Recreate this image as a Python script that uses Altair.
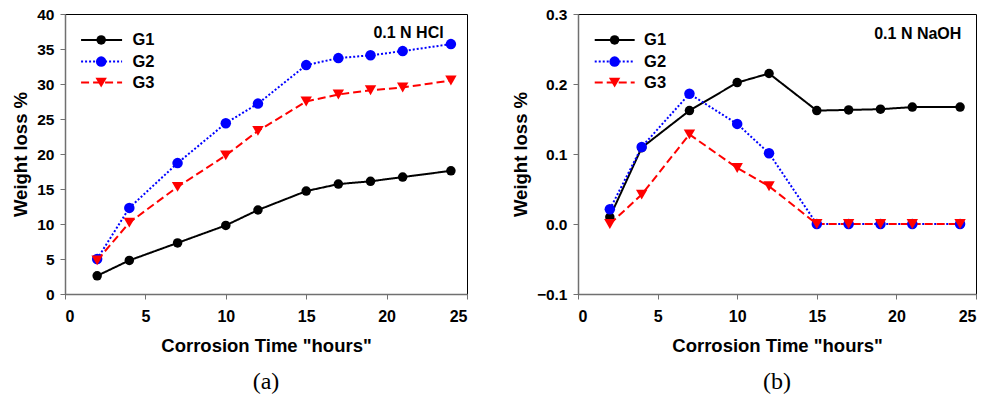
import altair as alt
import pandas as pd

hours = [2, 4, 7, 10, 12, 15, 17, 19, 21, 24]
series_names = ["G1", "G2", "G3"]

hcl_g1 = [2.6, 4.8, 7.3, 9.8, 12.0, 14.7, 15.7, 16.1, 16.7, 17.6]
hcl_g2 = [5.0, 12.3, 18.7, 24.4, 27.2, 32.7, 33.7, 34.1, 34.7, 35.7]
hcl_g3 = [4.8, 10.2, 15.3, 19.8, 23.3, 27.5, 28.5, 29.1, 29.5, 30.5]

naoh_g1 = [0.010, 0.109, 0.162, 0.202, 0.215, 0.162, 0.163, 0.164, 0.167, 0.167]
naoh_g2 = [0.021, 0.110, 0.186, 0.143, 0.101, 0.0, 0.0, 0.0, 0.0, 0.0]
naoh_g3 = [0.0, 0.042, 0.128, 0.080, 0.054, 0.0, 0.0, 0.0, 0.0, 0.0]

x_ticks = [0, 5, 10, 15, 20, 25]
hcl_ticks = [0, 5, 10, 15, 20, 25, 30, 35, 40]
naoh_ticks = [-0.1, 0.0, 0.1, 0.2, 0.3]

colors = ["#000000", "#0000FF", "#FF0000"]
dashes = [[1, 0], [2, 2], [8, 4]]
shapes = ["circle", "circle", "triangle-down"]
sizes = [90, 130, 130]

FONT = "Liberation Sans"

color_scale = alt.Scale(domain=series_names, range=colors)
dash_scale = alt.Scale(domain=series_names, range=dashes)
shape_scale = alt.Scale(domain=series_names, range=shapes)
size_scale = alt.Scale(domain=series_names, range=sizes)


def make_panel(vals, ydomain, yticks, yfmt, label, lab_x, lab_y, leg_x0, leg_x1, leg_xm, leg_xt, leg_y, caption, width):
    rows = []
    for name, v in zip(series_names, vals):
        for h, y in zip(hours, v):
            rows.append({"series": name, "hours": h, "wl": y})
    df = pd.DataFrame(rows)

    xs = alt.Scale(domain=[0, 25], nice=False, zero=False)
    ys = alt.Scale(domain=ydomain, nice=False, zero=False)
    xaxis = alt.Axis(values=x_ticks, title='Corrosion Time "hours"', labelFontSize=16,
                     labelPadding=9, titlePadding=12, labelOverlap=False, tickCount=len(x_ticks))
    yaxis = alt.Axis(values=yticks, format=yfmt, title="Weight loss %", labelFontSize=15.5,
                     labelPadding=6, titlePadding=6, labelOverlap=False, tickCount=len(yticks))

    def X(f):
        return alt.X(f, scale=xs, axis=xaxis)

    def Y(f):
        return alt.Y(f, scale=ys, axis=yaxis)

    base = alt.Chart(df)
    lines = base.mark_line(strokeWidth=2).encode(
        x=X("hours:Q"),
        y=Y("wl:Q"),
        color=alt.Color("series:N", scale=color_scale, legend=None),
        strokeDash=alt.StrokeDash("series:N", scale=dash_scale, legend=None),
    )
    pts = base.mark_point(filled=True, opacity=1).encode(
        x=X("hours:Q"),
        y=Y("wl:Q"),
        color=alt.Color("series:N", scale=color_scale, legend=None),
        shape=alt.Shape("series:N", scale=shape_scale, legend=None),
        size=alt.Size("series:N", scale=size_scale, legend=None),
    )

    leg = pd.DataFrame({"series": series_names, "x0": [leg_x0] * 3, "x1": [leg_x1] * 3,
                        "xm": [leg_xm] * 3, "xt": [leg_xt] * 3, "y": leg_y})
    lb = alt.Chart(leg)
    leg_lines = lb.mark_rule(strokeWidth=2).encode(
        x=X("x0:Q"), x2="x1:Q", y=Y("y:Q"),
        color=alt.Color("series:N", scale=color_scale, legend=None),
        strokeDash=alt.StrokeDash("series:N", scale=dash_scale, legend=None),
    )
    leg_pts = lb.mark_point(filled=True, opacity=1).encode(
        x=X("xm:Q"), y=Y("y:Q"),
        color=alt.Color("series:N", scale=color_scale, legend=None),
        shape=alt.Shape("series:N", scale=shape_scale, legend=None),
        size=alt.Size("series:N", scale=size_scale, legend=None),
    )
    leg_txt = lb.mark_text(align="left", baseline="middle", font=FONT, fontWeight="bold",
                           fontSize=16.5, color="black").encode(
        x=X("xt:Q"), y=Y("y:Q"), text="series:N")

    ann = alt.Chart(pd.DataFrame({"x": [lab_x], "y": [lab_y], "t": [label]})).mark_text(
        align="right", baseline="middle", font=FONT, fontWeight="bold", fontSize=16, color="black"
    ).encode(x=X("x:Q"), y=Y("y:Q"), text="t:N")

    return alt.layer(lines, pts, leg_lines, leg_pts, leg_txt, ann).properties(
        width=width, height=280,
        title=alt.TitleParams(caption, orient="bottom", font="Liberation Serif", fontSize=24,
                              fontWeight="normal", color="black", offset=15),
    )


left = make_panel([hcl_g1, hcl_g2, hcl_g3], [0, 40], hcl_ticks, "d", "0.1 N HCl",
                  23.55, 37.3, 1.0, 3.55, 2.25, 4.2, [36.3, 33.2, 30.2], "(a)", 402)
right = make_panel([naoh_g1, naoh_g2, naoh_g3], [-0.1, 0.3], naoh_ticks, ".1f", "0.1 N NaOH",
                   24.08, 0.272, 1.05, 3.56, 2.3, 4.15, [0.263, 0.232, 0.202], "(b)", 398)

chart = alt.hconcat(left, right, spacing=111, bounds="flush").properties(
    padding={"left": 11, "top": 6, "right": 5, "bottom": 5},
    background="white",
).configure_view(
    stroke="black", strokeWidth=1
).configure_axis(
    labelFont=FONT, labelFontWeight="bold", labelColor="black", labelOverlap=False,
    titleFont=FONT, titleFontWeight="bold", titleFontSize=18.5, titleColor="black",
    domainColor="#707070", tickColor="#707070", tickSize=5, domainWidth=1.5, grid=False,
)

chart.save("out.html", embed_options={"renderer": "svg", "actions": False})
